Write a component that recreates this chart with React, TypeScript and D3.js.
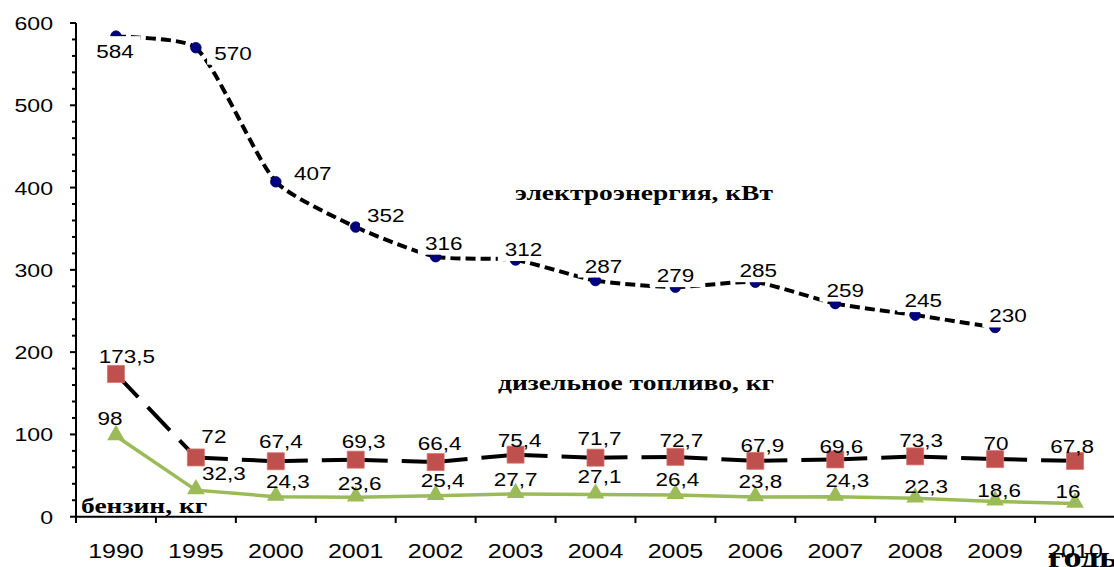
import React from "react";
import * as d3 from "d3";

// ---- data ----
const years = ["1990", "1995", "2000", "2001", "2002", "2003", "2004", "2005", "2006", "2007", "2008", "2009", "2010"];
const electricity = [584, 570, 407, 352, 316, 312, 287, 279, 285, 259, 245, 230];
const diesel = [173.5, 72, 67.4, 69.3, 66.4, 75.4, 71.7, 72.7, 67.9, 69.6, 73.3, 70, 67.8];
const petrol = [98, 32.3, 24.3, 23.6, 25.4, 27.7, 27.1, 26.4, 23.8, 24.3, 22.3, 18.6, 16];
const yTicks = [0, 100, 200, 300, 400, 500, 600];

// label nudges (text centre dx, baseline dy) relative to the marker
const elecLabelPos = [[-1, 22], [37, 12], [37, -2], [30, -5], [8, -7], [8, -4], [8, -8], [0, -5], [3, -5], [10, -7], [8, -8], [13, -5]];
const dieselLabelPos = [[11, -11], [18, -14], [5, -13], [8, -12], [4, -12], [4, -8], [4, -13], [6, -10], [7, -9], [6, -6], [6, -9], [1, -9], [-3, -8]];
const petrolLabelPos = [[-6, -11], [28, -10], [12, -9], [4, -7], [7, -9], [0, -8], [4, -11], [2, -9], [5, -9], [12, -10], [11, -5], [4, -4], [-7, -6]];

const W = 1114;
const H = 567;
const SX = 1.25; // the picture is stretched horizontally
const SANS = "'Liberation Sans', Arial, sans-serif";
const SERIF = "'Liberation Serif', 'Times New Roman', serif";

const fmt = (v: number) => String(v).replace(".", ",");

type Pt = [number, number];

// one path per segment so the dash restarts at every point (Excel style)
function straightSegs(pts: Pt[]): string[] {
  return d3.pairs(pts).map(([a, b]) => {
    const p = d3.path();
    p.moveTo(a[0], a[1]);
    p.lineTo(b[0], b[1]);
    return p.toString();
  });
}

// smoothed segments, handle length proportional to the neighbouring chord lengths
function smoothSegs(pts: Pt[], t = 0.2): string[] {
  const n = pts.length;
  const len = (a: Pt, b: Pt) => Math.hypot(b[0] - a[0], b[1] - a[1]);
  const L = d3.range(n - 1).map((i) => len(pts[i], pts[i + 1]));
  const tan = pts.map((_, i) => {
    const a = pts[Math.max(0, i - 1)];
    const b = pts[Math.min(n - 1, i + 1)];
    return [b[0] - a[0], b[1] - a[1]] as Pt;
  });
  return d3.range(n - 1).map((i) => {
    const p0 = pts[i], p1 = pts[i + 1];
    const k0 = i === 0 ? t * 0.5 : (t * L[i]) / (L[i - 1] + L[i]);
    const k1 = i === n - 2 ? t * 0.5 : (t * L[i]) / (L[i] + L[i + 1]);
    const p = d3.path();
    p.moveTo(p0[0], p0[1]);
    p.bezierCurveTo(
      p0[0] + tan[i][0] * k0, p0[1] + tan[i][1] * k0,
      p1[0] - tan[i + 1][0] * k1, p1[1] - tan[i + 1][1] * k1,
      p1[0], p1[1]
    );
    return p.toString();
  });
}

function T({ x, y, children, anchor = "middle", size = 18, bold = false, serif = false }: any) {
  return (
    <text
      transform={`translate(${x},${y}) scale(${SX},1)`}
      textAnchor={anchor}
      fontSize={size}
      fontWeight={bold ? "bold" : "normal"}
      fontFamily={serif ? SERIF : SANS}
      fill="#000"
    >
      {children}
    </text>
  );
}

const textWidth = (s: string, size: number) =>
  s.split("").reduce((w, c) => w + (c === "," ? 0.278 : 0.556), 0) * size * SX;

export default function App() {
  const x = d3.scaleBand().domain(years).range([76, 1115]);
  const y = d3.scaleLinear().domain([0, 600]).range([516.7, 23]);
  const cx = (i: number) => (x(years[i]) as number) + x.bandwidth() / 2;

  const elecPts = electricity.map((v, i) => [cx(i), y(v)] as Pt);
  const dieselPts = diesel.map((v, i) => [cx(i), y(v)] as Pt);
  const petrolPts = petrol.map((v, i) => [cx(i), y(v)] as Pt);

  const elecSegs = smoothSegs(elecPts);
  const dieselSegs = straightSegs(dieselPts);
  const petrolLine = d3.line()(petrolPts) as string;

  const square = d3.symbol(d3.symbolSquare, 289)() as string;
  const tri = d3.symbol(d3.symbolTriangle, 135)() as string;

  const minor = d3.range(0, 601, 20);
  const bounds = d3.range(years.length + 1).map((i) => 76 + i * x.step());

  return (
    <svg width={W} height={H} style={{ position: "absolute", left: 0, top: 0, background: "#fff" }}>
      {/* axes */}
      <g stroke="#000" strokeWidth={2}>
        <line x1={76} x2={76} y1={23} y2={517} />
        <line x1={75} x2={W} y1={516.7} y2={516.7} />
        {minor.map((v) => (
          <line key={v} x1={v % 100 === 0 ? 70 : 72} x2={76} y1={y(v)} y2={y(v)} />
        ))}
        {bounds.map((b, i) => (
          <line key={i} x1={b} x2={b} y1={516.7} y2={523} />
        ))}
      </g>
      {yTicks.map((v) => (
        <T key={v} x={53} y={y(v) + 7} anchor="end" size={18.5}>{v}</T>
      ))}
      {years.map((yr, i) => (
        <T key={yr} x={cx(i)} y={558} size={20}>{yr}</T>
      ))}

      {/* electricity */}
      <g fill="none" stroke="#000" strokeWidth={4} strokeDasharray="10,5">
        {elecSegs.map((d, i) => <path key={i} d={d} />)}
      </g>
      {elecPts.map((p, i) => (
        <circle key={i} cx={p[0]} cy={p[1]} r={5.3} fill="#000080" stroke="#00005a" strokeWidth={0.8} />
      ))}

      {/* diesel */}
      <g fill="none" stroke="#000" strokeWidth={4} strokeDasharray="32,14">
        {dieselSegs.map((d, i) => <path key={i} d={d} />)}
      </g>
      {dieselPts.map((p, i) => (
        <path key={i} d={square} transform={`translate(${p[0]},${p[1]})`} fill="#C0504D" stroke="#d2736f" strokeWidth={0.8} />
      ))}

      {/* petrol */}
      <path d={petrolLine} fill="none" stroke="#9BBB59" strokeWidth={3.5} />
      {petrolPts.map((p, i) => (
        <path key={i} d={tri} transform={`translate(${p[0]},${p[1] - 1})`} fill="#9BBB59" />
      ))}

      {/* data labels */}
      {electricity.map((v, i) => {
        const tx = elecPts[i][0] + elecLabelPos[i][0];
        const ty = elecPts[i][1] + elecLabelPos[i][1];
        const w = textWidth(fmt(v), 18) + 14;
        return (
          <g key={i}>
            <rect x={tx - w / 2} y={ty - 22} width={w} height={27} fill="#fff" />
            <T x={tx} y={ty}>{fmt(v)}</T>
          </g>
        );
      })}
      {diesel.map((v, i) => (
        <T key={i} x={dieselPts[i][0] + dieselLabelPos[i][0]} y={dieselPts[i][1] + dieselLabelPos[i][1]}>{fmt(v)}</T>
      ))}
      {petrol.map((v, i) => (
        <T key={i} x={petrolPts[i][0] + petrolLabelPos[i][0]} y={petrolPts[i][1] + petrolLabelPos[i][1]}>{fmt(v)}</T>
      ))}

      {/* series names */}
      <T x={644} y={200} size={22} bold serif>электроэнергия, кВт</T>
      <T x={636} y={390} size={22} bold serif>дизельное топливо, кг</T>
      <T x={81} y={513} size={22} bold serif anchor="start">бензин, кг</T>
      <text transform={`translate(1048,567) scale(${SX},1)`} fontSize={29} fontWeight="bold" fontFamily={SERIF}>годы</text>
    </svg>
  );
}
